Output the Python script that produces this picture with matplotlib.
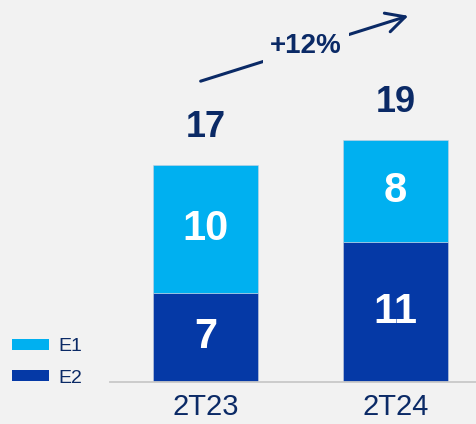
import matplotlib
matplotlib.use('Agg')
import matplotlib.pyplot as plt
from matplotlib import font_manager
from matplotlib.patches import Patch, FancyArrowPatch

# quarterly values, split by segment
periods = ['2T23', '2T24']
e2 = [7, 11]
e1 = [10, 8]
series_names = ['E1', 'E2']

LIGHT = '#00B0F0'
DARK = '#0539A6'
NAVY = '#0B2A66'
BG = '#F2F2F2'

names = {f.name for f in font_manager.fontManager.ttflist}
NARROW = 'Liberation Sans Narrow' if 'Liberation Sans Narrow' in names else 'Liberation Sans'
BOLD = 'Liberation Sans'


def main():
    fig = plt.figure(figsize=(4.77, 4.24), dpi=100, facecolor=BG)
    ax = fig.add_axes([110 / 477, 42 / 424, 367 / 477, 382 / 424])
    ax.set_facecolor(BG)

    x = list(range(len(periods)))
    width = 0.553
    totals = [a + b for a, b in zip(e2, e1)]

    ax.bar(x, e2, width, color=DARK, edgecolor='#C8D0E0', linewidth=0.4)
    ax.bar(x, e1, width, bottom=e2, color=LIGHT, edgecolor='#C8D0E0', linewidth=0.4)

    # segment values inside the bars, totals above
    for i in x:
        ax.text(i, e2[i] / 2, str(e2[i]), ha='center', va='center', color='white',
                fontsize=30, fontweight='bold', family=NARROW)
        ax.text(i, e2[i] + e1[i] / 2, str(e1[i]), ha='center', va='center', color='white',
                fontsize=30, fontweight='bold', family=NARROW)
        ax.annotate(str(totals[i]), (i, totals[i]), xytext=(0, 27), textcoords='offset points',
                    ha='center', va='center', color=NAVY, fontsize=26, fontweight='bold',
                    family=BOLD)

    ax.set_xlim(-0.5026, 1.4289)
    ax.set_ylim(0, 382 / 12.76)
    ax.set_xticks(x)
    ax.set_xticklabels(periods, fontsize=21, color=NAVY, family=NARROW)
    ax.tick_params(axis='x', length=0, pad=8)
    ax.set_yticks([])
    for s in ['top', 'right', 'left']:
        ax.spines[s].set_visible(False)
    ax.spines['bottom'].set_color('#C8C8C8')
    ax.spines['bottom'].set_linewidth(1.3)

    # growth arrow
    growth = round((totals[1] / totals[0] - 1) * 100)
    arrow = FancyArrowPatch((198 / 477, 1 - 82 / 424), (411 / 477, 1 - 15 / 424),
                            transform=fig.transFigure, arrowstyle='->,head_length=1.35,head_width=0.7',
                            mutation_scale=10, color=NAVY, lw=2.2)
    fig.add_artist(arrow)
    fig.text(306 / 477, 1 - 46 / 424, f'+{growth}%', ha='center', va='center', color=NAVY,
             fontsize=20, fontweight='bold', family=NARROW,
             bbox=dict(facecolor=BG, edgecolor='none', pad=5))

    handles = [Patch(facecolor=LIGHT, label=series_names[0]),
               Patch(facecolor=DARK, label=series_names[1])]
    fig.legend(handles=handles, loc='upper left', bbox_to_anchor=(12 / 477, 1 - 338 / 424),
               frameon=False, borderpad=0, borderaxespad=0, handlelength=1.9, handleheight=0.5,
               handletextpad=0.5, labelspacing=0.75, labelcolor=NAVY,
               prop={'family': NARROW, 'size': 14})

    fig.savefig('out.png', dpi=100, facecolor=BG)


if __name__ == '__main__':
    main()
